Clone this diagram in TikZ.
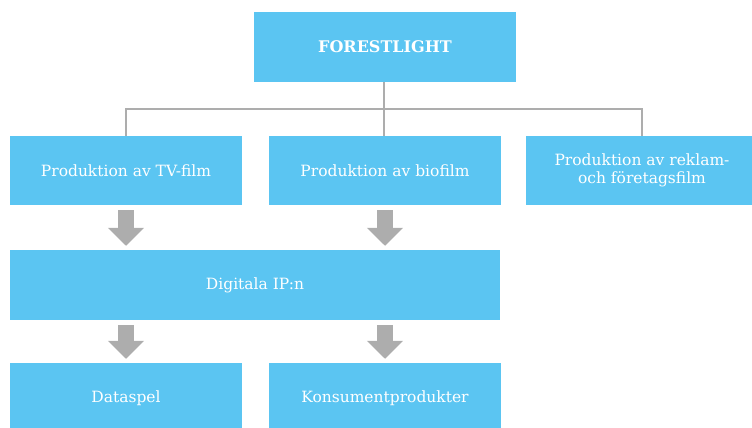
\documentclass[tikz,border=0pt]{standalone}
\usepackage{fontspec}
\setmainfont{DejaVu Serif}
\usetikzlibrary{arrows.meta}

\definecolor{boxblue}{HTML}{5BC5F2}
\definecolor{linegray}{HTML}{ADADAD}

\begin{document}
\begin{tikzpicture}[x=1pt,y=-1pt,
  box/.style={fill=boxblue,text=white,minimum width=232pt,minimum height=70pt,
    inner sep=0pt,align=center,font=\fontsize{15.5}{18}\selectfont},
  orgline/.style={draw=linegray,line width=2pt},
  flow/.style={draw=linegray,line width=16pt,shorten <=5pt,shorten >=4pt,
    -{Triangle[width=35pt,length=18pt]}}]
\useasboundingbox (0,0) rectangle (752,428);

\node[box,minimum width=262pt,font=\bfseries\fontsize{16}{18}\selectfont] (top) at (385,47) {FORESTLIGHT};

\node[box,minimum height=69pt] (tv) at (126,170.5) {Produktion av TV-film};
\node[box,minimum height=69pt] (bio) at (385,170.5) {Produktion av biofilm};
\node[box,minimum height=69pt] (ad) at (642,170.5) {Produktion av reklam-\\och företagsfilm};

\node[box,minimum width=490pt] (ip) at (255,285) {Digitala IP:n};

\node[box] (game) at (126,398) {Dataspel};
\node[box] (prod) at (385,398) {Konsumentprodukter};

\coordinate (bus) at (384,109);

\draw[orgline] (384,82) -- (384,136);
\draw[orgline] (tv.north) |- (bus) -| (ad.north);

\draw[flow] (tv.south) -- (tv.south |- ip.north);
\draw[flow] (bio.south) -- (bio.south |- ip.north);
\draw[flow] (ip.south -| game) -- (game.north);
\draw[flow] (ip.south -| prod) -- (prod.north);
\end{tikzpicture}
\end{document}
